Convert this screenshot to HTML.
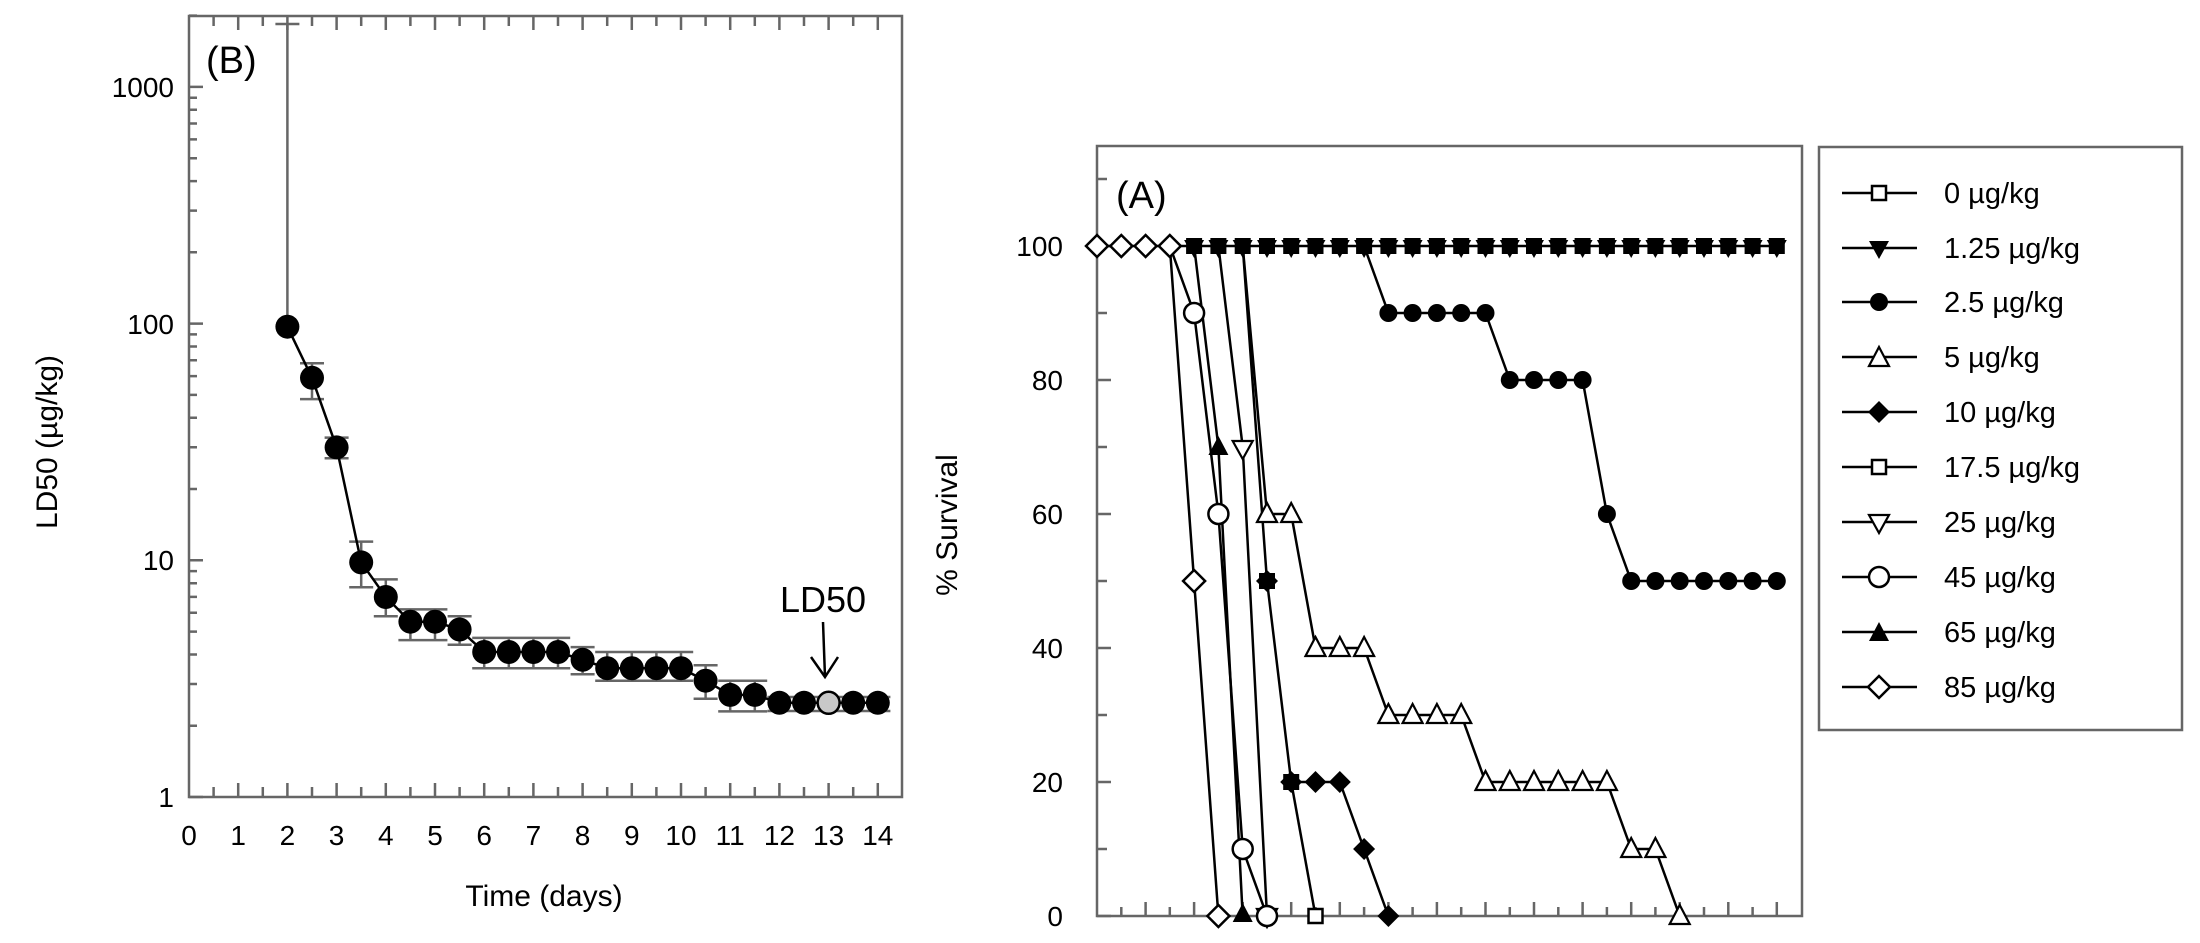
<!DOCTYPE html>
<html><head><meta charset="utf-8"><style>
html,body{margin:0;padding:0;background:#fff;}
svg{display:block;font-family:"Liberation Sans",Arial,sans-serif;}
</style></head><body>
<svg width="2200" height="943" viewBox="0 0 2200 943" xmlns="http://www.w3.org/2000/svg">
<defs>
<rect id="sq" x="-7" y="-7" width="14" height="14" fill="#fff" stroke="#000" stroke-width="2.5"/>
<rect id="sqf" x="-7" y="-7" width="14" height="14" fill="#000" stroke="#000" stroke-width="2"/>
<polygon id="tdf" points="-10,-8 10,-8 0,10" fill="#000"/>
<polygon id="tdo" points="-10,-8 10,-8 0,10" fill="#fff" stroke="#000" stroke-width="2.2"/>
<polygon id="tuf" points="0,-11 10,8 -10,8" fill="#000"/>
<polygon id="tuo" points="0,-11 10,8 -10,8" fill="#fff" stroke="#000" stroke-width="2.2"/>
<circle id="cf" r="9" fill="#000"/>
<circle id="co" r="10" fill="#fff" stroke="#000" stroke-width="2.5"/>
<polygon id="dmf" points="0,-11 11,0 0,11 -11,0" fill="#000"/>
<polygon id="dmo" points="0,-11 11,0 0,11 -11,0" fill="#fff" stroke="#000" stroke-width="2.5"/>
<circle id="big" r="12" fill="#000"/>
</defs>

<!-- ============ LEFT PLOT (B) ============ -->
<g stroke="#666" stroke-width="2.5" fill="none">
<rect x="189" y="16" width="713" height="781"/>
<path d="M189 797h14M189 560.3h14M189 323.6h14M189 86.9h14"/>
<path d="M189 725.7h8M189 684h8M189 654.5h8M189 631.6h8M189 612.8h8M189 596.9h8M189 583.2h8M189 571.1h8
M189 489h8M189 447.3h8M189 417.8h8M189 394.9h8M189 376.1h8M189 360.2h8M189 346.5h8M189 334.4h8
M189 252.3h8M189 210.6h8M189 181.1h8M189 158.2h8M189 139.4h8M189 123.5h8M189 109.8h8M189 97.7h8
M189 15.6h8"/>
<path d="M238.2 797v-14M287.4 797v-14M336.6 797v-14M385.8 797v-14M435 797v-14M484.2 797v-14M533.4 797v-14M582.6 797v-14M631.8 797v-14M681 797v-14M730.2 797v-14M779.4 797v-14M828.6 797v-14M877.8 797v-14
M213.6 797v-10M262.8 797v-10M312 797v-10M361.2 797v-10M410.4 797v-10M459.6 797v-10M508.8 797v-10M558 797v-10M607.2 797v-10M656.4 797v-10M705.6 797v-10M754.8 797v-10M804 797v-10M853.2 797v-10
M238.2 16v14M287.4 16v14M336.6 16v14M385.8 16v14M435 16v14M484.2 16v14M533.4 16v14M582.6 16v14M631.8 16v14M681 16v14M730.2 16v14M779.4 16v14M828.6 16v14M877.8 16v14
M213.6 16v10M262.8 16v10M312 16v10M361.2 16v10M410.4 16v10M459.6 16v10M508.8 16v10M558 16v10M607.2 16v10M656.4 16v10M705.6 16v10M754.8 16v10M804 16v10M853.2 16v10"/>
<path d="M287.4 326.7V24M275.4 24h24
M312 399.1V363.2M300 399.1h24M300 363.2h24
M336.6 458.2V437.6M324.6 458.2h24M324.6 437.6h24
M361.2 587.2V541.6M349.2 587.2h24M349.2 541.6h24
M385.8 616.3V579.4M373.8 616.3h24M373.8 579.4h24
M410.4 640.1V609.4M435 640.1V609.4M398.4 640.1h49M398.4 609.4h49
M459.6 644.7V616.3M447.6 644.7h24M447.6 616.3h24
M484.2 668.2V637.9M508.8 668.2V637.9M533.4 668.2V637.9M558 668.2V637.9M472.2 668.2h98M472.2 637.9h98
M582.6 674.3V647.1M570.6 674.3h24M570.6 647.1h24
M607.2 680.7V652M631.8 680.7V652M656.4 680.7V652M681 680.7V652M595.2 680.7h98M595.2 652h98
M705.6 698.8V665.3M693.6 698.8h24M693.6 665.3h24
M730.2 711.4V680.7M754.8 711.4V680.7M718.2 711.4h49M718.2 680.7h49
M767.4 711h123M767.4 697h123"/>
</g>
<polyline fill="none" stroke="#000" stroke-width="2.5" points="287.4,326.7 312,377.8 336.6,447.4 361.2,562.4 385.8,597 410.4,621.7 435,621.7 459.6,629.5 484.2,652 508.8,652 533.4,652 558,652 582.6,659.8 607.2,668.2 631.8,668.2 656.4,668.2 681,668.2 705.6,680.7 730.2,694.9 754.8,694.9 779.4,702.8 804,702.8 828.6,702.8 853.2,702.8 877.8,702.8"/>
<g>
<use href="#big" x="287.4" y="326.7"/><use href="#big" x="312" y="377.8"/><use href="#big" x="336.6" y="447.4"/><use href="#big" x="361.2" y="562.4"/><use href="#big" x="385.8" y="597"/><use href="#big" x="410.4" y="621.7"/><use href="#big" x="435" y="621.7"/><use href="#big" x="459.6" y="629.5"/><use href="#big" x="484.2" y="652"/><use href="#big" x="508.8" y="652"/><use href="#big" x="533.4" y="652"/><use href="#big" x="558" y="652"/><use href="#big" x="582.6" y="659.8"/><use href="#big" x="607.2" y="668.2"/><use href="#big" x="631.8" y="668.2"/><use href="#big" x="656.4" y="668.2"/><use href="#big" x="681" y="668.2"/><use href="#big" x="705.6" y="680.7"/><use href="#big" x="730.2" y="694.9"/><use href="#big" x="754.8" y="694.9"/><use href="#big" x="779.4" y="702.8"/><use href="#big" x="804" y="702.8"/><use href="#big" x="853.2" y="702.8"/><use href="#big" x="877.8" y="702.8"/>
<circle cx="828.6" cy="702.8" r="11" fill="#c8c8c8" stroke="#000" stroke-width="2.5"/>
</g>
<path d="M823 622L825 677M811 657L825 677L838 657" fill="none" stroke="#000" stroke-width="2.5"/>
<text x="823" y="612" font-size="36" text-anchor="middle">LD50</text>
<text x="206" y="73" font-size="38">(B)</text>
<g font-size="28" text-anchor="end">
<text x="174" y="807">1</text><text x="174" y="570">10</text><text x="174" y="334">100</text><text x="174" y="97">1000</text>
</g>
<g font-size="28" text-anchor="middle">
<text x="189" y="845">0</text><text x="238.2" y="845">1</text><text x="287.4" y="845">2</text><text x="336.6" y="845">3</text><text x="385.8" y="845">4</text><text x="435" y="845">5</text><text x="484.2" y="845">6</text><text x="533.4" y="845">7</text><text x="582.6" y="845">8</text><text x="631.8" y="845">9</text><text x="681" y="845">10</text><text x="730.2" y="845">11</text><text x="779.4" y="845">12</text><text x="828.6" y="845">13</text><text x="877.8" y="845">14</text>
<text x="544" y="906" font-size="30">Time (days)</text>
<text transform="translate(57,442) rotate(-90)" font-size="30">LD50 (µg/kg)</text>
<text transform="translate(957,525) rotate(-90)" font-size="30">% Survival</text>
</g>

<!-- ============ RIGHT PLOT (A) ============ -->
<g stroke="#666" stroke-width="2.5" fill="none">
<rect x="1097" y="146" width="705" height="770"/>
<path d="M1097 916h14M1097 782h14M1097 648h14M1097 514h14M1097 380h14M1097 246h14
M1097 849h10M1097 715h10M1097 581h10M1097 447h10M1097 313h10M1097 179h10
M1145.6 916v-14M1194.1 916v-14M1242.7 916v-14M1291.2 916v-14M1339.8 916v-14M1388.4 916v-14M1436.9 916v-14M1485.5 916v-14M1534 916v-14M1582.6 916v-14M1631.2 916v-14M1679.7 916v-14M1728.3 916v-14M1776.8 916v-14
M1121.3 916v-9M1169.8 916v-9M1218.4 916v-9M1267 916v-9M1315.5 916v-9M1364.1 916v-9M1412.6 916v-9M1461.2 916v-9M1509.8 916v-9M1558.3 916v-9M1606.9 916v-9M1655.4 916v-9M1704 916v-9M1752.6 916v-9"/>
</g>
<g font-size="28" text-anchor="end">
<text x="1063" y="926">0</text><text x="1063" y="792">20</text><text x="1063" y="658">40</text><text x="1063" y="524">60</text><text x="1063" y="390">80</text><text x="1063" y="256">100</text>
</g>
<text x="1116" y="208" font-size="38">(A)</text>

<g fill="none" stroke="#000" stroke-width="2.5">
<polyline points="1097,246 1776.8,246"/>
<polyline points="1364.1,246 1388.4,313 1485.5,313 1509.8,380 1582.6,380 1606.9,514 1631.2,581 1776.8,581"/>
<polyline points="1242.7,246 1267,514 1291.2,514 1315.5,648 1364.1,648 1388.4,715 1461.2,715 1485.5,782 1606.9,782 1631.2,849 1655.4,849 1679.7,916"/>
<polyline points="1242.7,246 1267,581 1291.2,782 1339.8,782 1364.1,849 1388.4,916"/>
<polyline points="1291.2,782 1315.5,916"/>
<polyline points="1218.4,246 1242.7,447 1267,916"/>
<polyline points="1169.8,246 1194.1,313 1218.4,514 1242.7,849 1267,916"/>
<polyline points="1194.1,246 1218.4,447 1242.7,916"/>
<polyline points="1169.8,246 1194.1,581 1218.4,916"/>
</g>
<g>
<use href="#sqf" x="1194.1" y="246"/><use href="#sqf" x="1218.4" y="246"/><use href="#sqf" x="1242.7" y="246"/><use href="#sqf" x="1267" y="246"/><use href="#sqf" x="1291.2" y="246"/><use href="#sqf" x="1315.5" y="246"/><use href="#sqf" x="1339.8" y="246"/><use href="#sqf" x="1364.1" y="246"/><use href="#sqf" x="1388.4" y="246"/><use href="#sqf" x="1412.6" y="246"/><use href="#sqf" x="1436.9" y="246"/><use href="#sqf" x="1461.2" y="246"/><use href="#sqf" x="1485.5" y="246"/><use href="#sqf" x="1509.8" y="246"/><use href="#sqf" x="1534" y="246"/><use href="#sqf" x="1558.3" y="246"/><use href="#sqf" x="1582.6" y="246"/><use href="#sqf" x="1606.9" y="246"/><use href="#sqf" x="1631.2" y="246"/><use href="#sqf" x="1655.4" y="246"/><use href="#sqf" x="1679.7" y="246"/><use href="#sqf" x="1704" y="246"/><use href="#sqf" x="1728.3" y="246"/><use href="#sqf" x="1752.6" y="246"/><use href="#sqf" x="1776.8" y="246"/>
<use href="#tdf" x="1194.1" y="248"/><use href="#tdf" x="1218.4" y="248"/><use href="#tdf" x="1242.7" y="248"/><use href="#tdf" x="1267" y="248"/><use href="#tdf" x="1291.2" y="248"/><use href="#tdf" x="1315.5" y="248"/><use href="#tdf" x="1339.8" y="248"/><use href="#tdf" x="1364.1" y="248"/><use href="#tdf" x="1388.4" y="248"/><use href="#tdf" x="1412.6" y="248"/><use href="#tdf" x="1436.9" y="248"/><use href="#tdf" x="1461.2" y="248"/><use href="#tdf" x="1485.5" y="248"/><use href="#tdf" x="1509.8" y="248"/><use href="#tdf" x="1534" y="248"/><use href="#tdf" x="1558.3" y="248"/><use href="#tdf" x="1582.6" y="248"/><use href="#tdf" x="1606.9" y="248"/><use href="#tdf" x="1631.2" y="248"/><use href="#tdf" x="1655.4" y="248"/><use href="#tdf" x="1679.7" y="248"/><use href="#tdf" x="1704" y="248"/><use href="#tdf" x="1728.3" y="248"/><use href="#tdf" x="1752.6" y="248"/><use href="#tdf" x="1776.8" y="248"/>
<use href="#cf" x="1388.4" y="313"/><use href="#cf" x="1412.6" y="313"/><use href="#cf" x="1436.9" y="313"/><use href="#cf" x="1461.2" y="313"/><use href="#cf" x="1485.5" y="313"/>
<use href="#cf" x="1509.8" y="380"/><use href="#cf" x="1534" y="380"/><use href="#cf" x="1558.3" y="380"/><use href="#cf" x="1582.6" y="380"/>
<use href="#cf" x="1606.9" y="514"/>
<use href="#cf" x="1631.2" y="581"/><use href="#cf" x="1655.4" y="581"/><use href="#cf" x="1679.7" y="581"/><use href="#cf" x="1704" y="581"/><use href="#cf" x="1728.3" y="581"/><use href="#cf" x="1752.6" y="581"/><use href="#cf" x="1776.8" y="581"/>
<use href="#tuo" x="1267" y="514"/><use href="#tuo" x="1291.2" y="514"/>
<use href="#tuo" x="1315.5" y="648"/><use href="#tuo" x="1339.8" y="648"/><use href="#tuo" x="1364.1" y="648"/>
<use href="#tuo" x="1388.4" y="715"/><use href="#tuo" x="1412.6" y="715"/><use href="#tuo" x="1436.9" y="715"/><use href="#tuo" x="1461.2" y="715"/>
<use href="#tuo" x="1485.5" y="782"/><use href="#tuo" x="1509.8" y="782"/><use href="#tuo" x="1534" y="782"/><use href="#tuo" x="1558.3" y="782"/><use href="#tuo" x="1582.6" y="782"/><use href="#tuo" x="1606.9" y="782"/>
<use href="#tuo" x="1631.2" y="849"/><use href="#tuo" x="1655.4" y="849"/><use href="#tuo" x="1679.7" y="916"/>
<use href="#dmf" x="1267" y="581"/><use href="#dmf" x="1291.2" y="782"/><use href="#dmf" x="1315.5" y="782"/><use href="#dmf" x="1339.8" y="782"/><use href="#dmf" x="1364.1" y="849"/><use href="#dmf" x="1388.4" y="916"/>
<use href="#sqf" x="1267" y="581"/><use href="#sqf" x="1291.2" y="782"/><use href="#sq" x="1315.5" y="916"/>
<use href="#tdo" x="1242.7" y="449"/><use href="#tdo" x="1267" y="917"/>
<use href="#co" x="1194.1" y="313"/><use href="#co" x="1218.4" y="514"/><use href="#co" x="1242.7" y="849"/><use href="#co" x="1267" y="916"/>
<use href="#tuf" x="1218.4" y="447"/><use href="#tuf" x="1242.7" y="914"/>
<use href="#dmo" x="1097" y="246"/><use href="#dmo" x="1121.3" y="246"/><use href="#dmo" x="1145.6" y="246"/><use href="#dmo" x="1169.8" y="246"/><use href="#dmo" x="1194.1" y="581"/><use href="#dmo" x="1218.4" y="916"/>
</g>

<!-- ============ LEGEND ============ -->
<rect x="1819" y="147" width="363" height="583" fill="none" stroke="#666" stroke-width="2.5"/>
<g stroke="#000" stroke-width="2.5">
<path d="M1842 193h75M1842 248h75M1842 302h75M1842 357h75M1842 412h75M1842 467h75M1842 522h75M1842 577h75M1842 632h75M1842 687h75"/>
</g>
<use href="#sq" x="1879" y="193"/>
<use href="#tdf" x="1879" y="249"/>
<use href="#cf" x="1879" y="302"/>
<use href="#tuo" x="1879" y="358"/>
<use href="#dmf" x="1879" y="412"/>
<use href="#sq" x="1879" y="467"/>
<use href="#tdo" x="1879" y="523"/>
<use href="#co" x="1879" y="577"/>
<use href="#tuf" x="1879" y="633"/>
<use href="#dmo" x="1879" y="687"/>
<g font-size="29">
<text x="1944" y="203">0 µg/kg</text>
<text x="1944" y="258">1.25 µg/kg</text>
<text x="1944" y="312">2.5 µg/kg</text>
<text x="1944" y="367">5 µg/kg</text>
<text x="1944" y="422">10 µg/kg</text>
<text x="1944" y="477">17.5 µg/kg</text>
<text x="1944" y="532">25 µg/kg</text>
<text x="1944" y="587">45 µg/kg</text>
<text x="1944" y="642">65 µg/kg</text>
<text x="1944" y="697">85 µg/kg</text>
</g>
</svg>
</body></html>
